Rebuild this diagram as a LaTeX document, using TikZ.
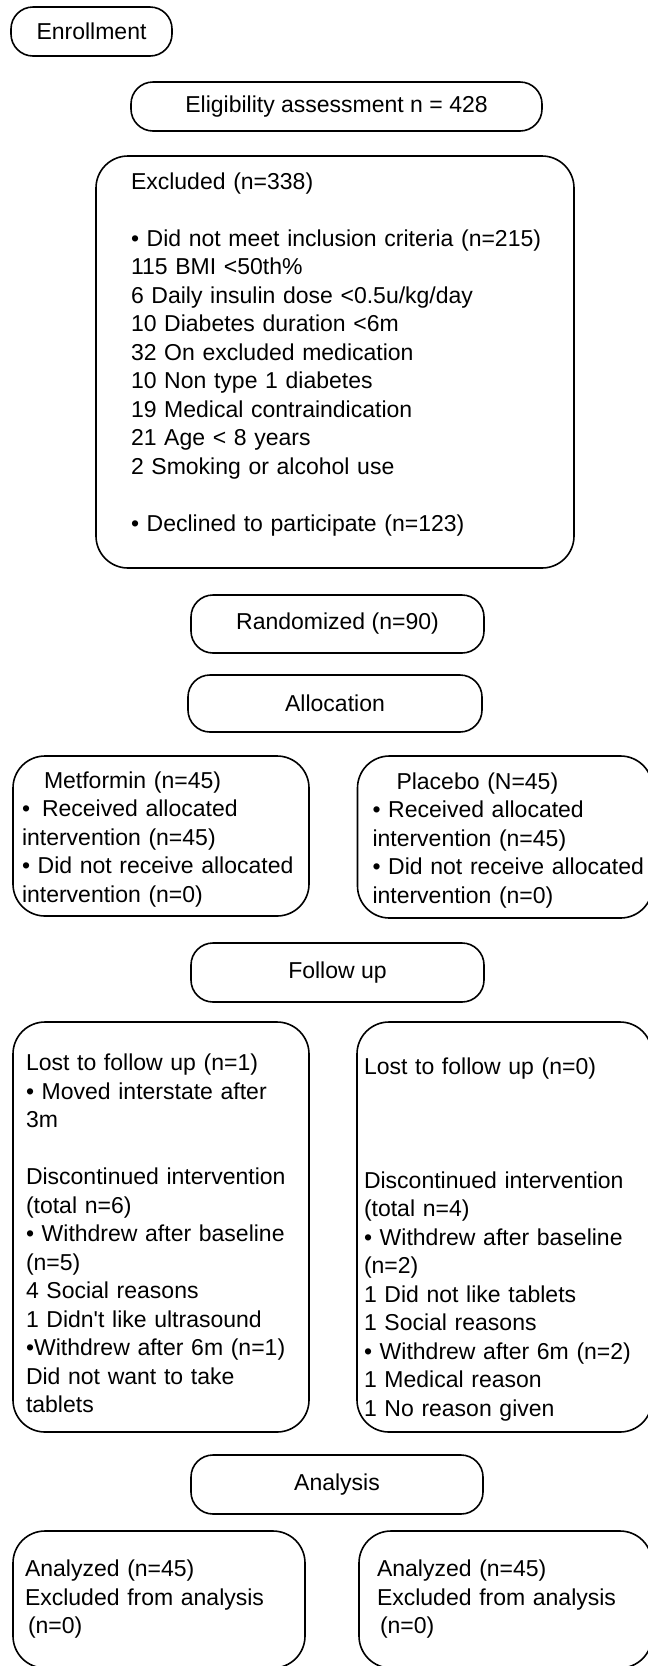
\documentclass[tikz,border=0pt]{standalone}
\usepackage{fontspec}
\setmainfont{Liberation Sans}
\tikzset{
  stage/.style={draw, line width=1.6pt, rounded corners=22pt, align=center},
  infobox/.style={draw, line width=1.6pt, rounded corners=32pt, align=left, inner ysep=0pt},
}
\begin{document}
\begin{tikzpicture}[x=1pt, y=-1pt, font=\fontsize{23}{28.5}\selectfont]
\useasboundingbox (0,0) rectangle (648,1666);
\clip (0,0) rectangle (648,1666);
% enrollment
\node[stage, minimum width=161pt, minimum height=49pt] (enrol) at (91.5,31.5) {Enrollment};
\node[stage, minimum width=411pt, minimum height=49pt] (elig) at (336.5,106.5) {Eligibility assessment n = 428};
\node[infobox, minimum height=412pt, text width=408pt, inner xsep=35pt] (excl) at (335,362) {Excluded (n=338)\\[28.5pt]
\mbox{• Did not meet inclusion criteria (n=215)}\\
115 BMI <50th\%\\
6 Daily insulin dose <0.5u/kg/day\\
10 Diabetes duration <6m\\
32 On excluded medication\\
10 Non type 1 diabetes\\
19 Medical contraindication\\
21 Age < 8 years\\
2 Smoking or alcohol use\\[28.5pt]
• Declined to participate (n=123)\rule[-20pt]{0pt}{0pt}};
\node[stage, minimum width=293pt, minimum height=58pt] (rand) at (337.5,624) {Randomized (n=90)};
% allocation
\node[stage, minimum width=294pt, minimum height=57pt] (alloc) at (335,703.5) {Allocation};
\node[infobox, minimum height=160pt, text width=278pt, inner xsep=9pt] (metf) at (161,836) {\rule{0pt}{23pt}\hspace{22pt}Metformin (n=45)\\
•\hspace{12pt}Received allocated\\
intervention (n=45)\\
\mbox{• Did not receive allocated}\\
intervention (n=0)};
\node[infobox, minimum height=162pt, text width=265pt, inner xsep=15pt] (plac) at (505,837) {\rule{0pt}{23pt}\hspace{24pt}Placebo (N=45)\\
• Received allocated\\
intervention (n=45)\\
\mbox{• Did not receive allocated}\\
intervention (n=0)};
% follow up
\node[stage, minimum width=293pt, minimum height=59pt] (follow) at (337.5,972.5) {Follow up};
\node[infobox, minimum height=410pt, text width=270pt, inner xsep=13pt] (lostm) at (161,1227) {\rule{0pt}{30pt}Lost to follow up (n=1)\\
• Moved interstate after\\
3m\\[28.5pt]
\mbox{Discontinued intervention}\\
(total n=6)\\
• Withdrew after baseline\\
(n=5)\\
4 Social reasons\\
1 Didn\textquotesingle t like ultrasound\\
\mbox{•Withdrew after 6m (n=1)}\\
Did not want to take\\
tablets};
\node[infobox, minimum height=410pt, text width=281pt, inner xsep=7pt] (lostp) at (504.5,1227) {\rule{0pt}{41pt}Lost to follow up (n=0)\\[85.5pt]
Discontinued intervention\\
(total n=4)\\
• Withdrew after baseline\\
(n=2)\\
1 Did not like tablets\\
1 Social reasons\\
\mbox{• Withdrew after 6m (n=2)}\\
1 Medical reason\\
1 No reason given};
% analysis
\node[stage, minimum width=292pt, minimum height=59pt] (anal) at (337,1484.5) {Analysis};
\node[infobox, minimum height=137pt, text width=268pt, inner xsep=12pt] (anam) at (159,1599.5) {Analyzed (n=45)\\
Excluded from analysis\\
\hspace{3pt}(n=0)};
\node[infobox, minimum height=137pt, text width=257pt, inner xsep=18pt] (anap) at (505.5,1599.5) {Analyzed (n=45)\\
Excluded from analysis\\
\hspace{3pt}(n=0)};
\end{tikzpicture}
\end{document}
